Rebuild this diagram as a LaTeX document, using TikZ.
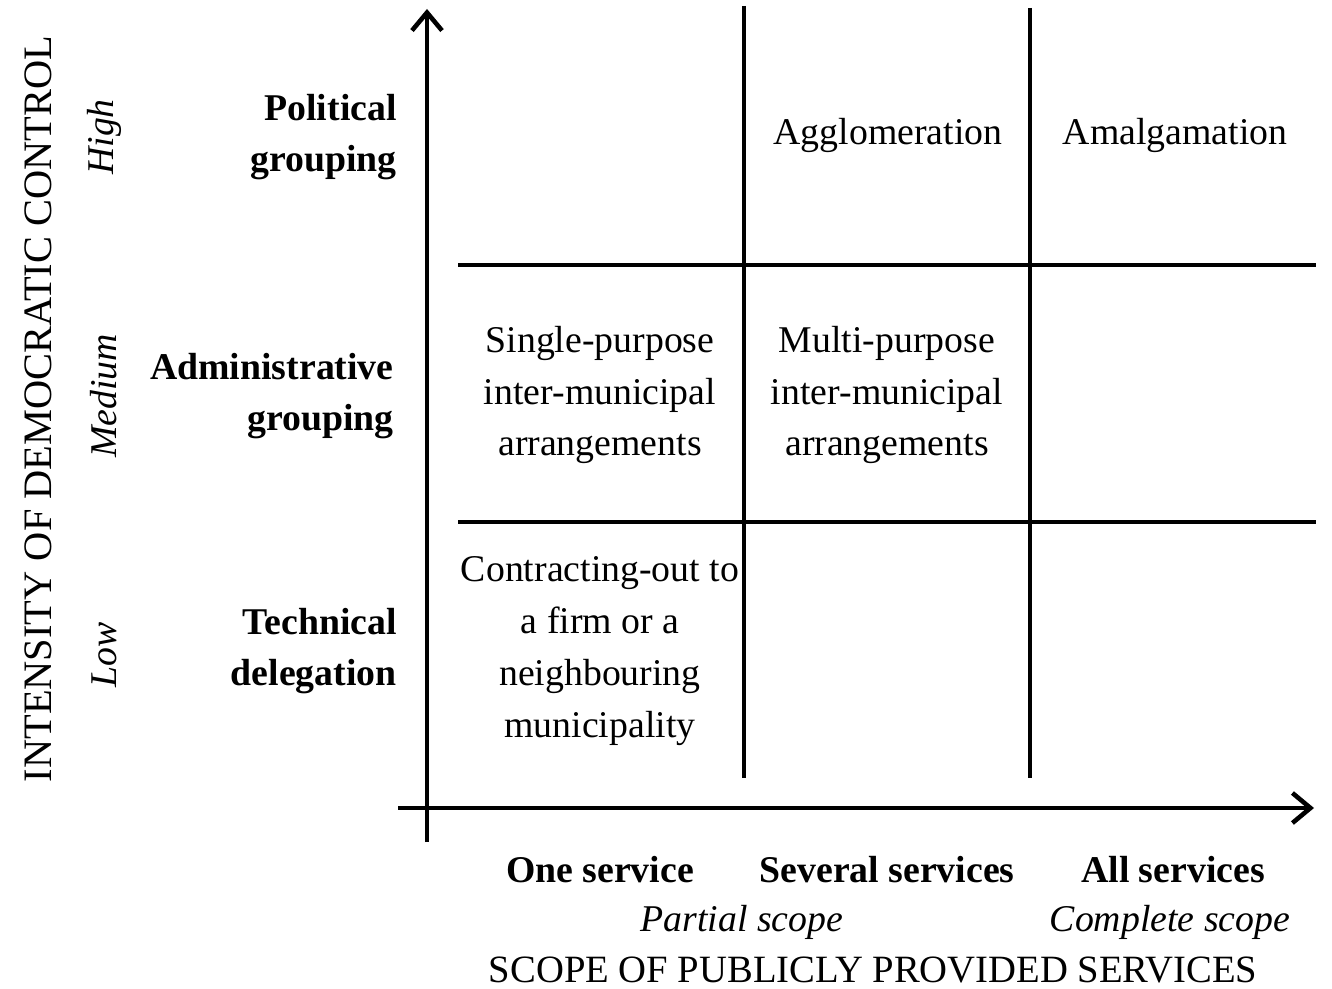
\documentclass[tikz,border=0pt]{standalone}
\usepackage{fontspec}
\setmainfont{Liberation Serif}
\usetikzlibrary{arrows.meta}
\tikzset{
  txt/.style={font=\fontsize{21.5}{29.5}\selectfont,inner sep=0pt},
  cell/.style={txt,align=center},
  level/.style={txt,font=\fontsize{21.5}{29.5}\selectfont\bfseries,align=right,anchor=east},
  degree/.style={txt,font=\fontsize{21.5}{29.5}\selectfont\itshape,rotate=90},
  axis/.style={line width=2.3pt,-{Straight Barb[length=0.36cm,width=0.6cm,line width=2.6pt]}},
  grid/.style={line width=2pt}
}
\begin{document}
\begin{tikzpicture}[x=0.02cm,y=-0.02cm]
\useasboundingbox (0,0) rectangle (1332,989);
% axes
\coordinate (yfoot) at (427,842); \coordinate (ytip) at (427,9);
\coordinate (xfoot) at (398,808); \coordinate (xtip) at (1314,808);
\draw[axis] (yfoot)--(ytip);
\draw[axis] (xfoot)--(xtip);
% grid of the table
\coordinate (v1t) at (744,6); \coordinate (v1b) at (744,778);
\coordinate (v2t) at (1030,8); \coordinate (v2b) at (1030,778);
\coordinate (h1l) at (458,265); \coordinate (h1r) at (1316,265);
\coordinate (h2l) at (458,522); \coordinate (h2r) at (1316,522);
\draw[grid] (v1t)--(v1b) (v2t)--(v2b) (h1l)--(h1r) (h2l)--(h2r);
% levels of control
\node[level] (pol) at (397,137) {Political\\grouping};
\node[level] (adm) at (394,396) {Administrative\\grouping};
\node[level] (tec) at (397,651) {Technical\\delegation};
\node[degree] (high) at (104,137) {High};
\node[degree] (med) at (104,396) {Medium};
\node[degree] (low) at (104,655) {Low};
\node[txt,rotate=90,font=\fontsize{23}{29.5}\selectfont] (ytitle) at (38,409) {INTENSITY OF DEMOCRATIC CONTROL};
% cells
\node[cell] (aggl) at (888,135) {Agglomeration};
\node[cell] (amal) at (1175,135) {Amalgamation};
\node[cell] (single) at (600,395) {Single-purpose\\inter-municipal\\arrangements};
\node[cell] (multi) at (887,395) {Multi-purpose\\inter-municipal\\arrangements};
\node[cell] (contr) at (600,651) {Contracting-out to\\a firm or a\\neighbouring\\municipality};
% scope of services
\node[cell,font=\fontsize{21.5}{29.5}\selectfont\bfseries] (one) at (600,870) {One service};
\node[cell,font=\fontsize{21.5}{29.5}\selectfont\bfseries] (several) at (887,870) {Several services};
\node[cell,font=\fontsize{21.5}{29.5}\selectfont\bfseries] (all) at (1173,870) {All services};
\node[cell,font=\fontsize{21.5}{29.5}\selectfont\itshape] (partial) at (742,922) {Partial scope};
\node[cell,font=\fontsize{21.5}{29.5}\selectfont\itshape] (complete) at (1170,922) {Complete scope};
\node[txt,font=\fontsize{22}{29.5}\selectfont] (xtitle) at (873,970) {SCOPE OF PUBLICLY PROVIDED SERVICES};
\end{tikzpicture}
\end{document}
